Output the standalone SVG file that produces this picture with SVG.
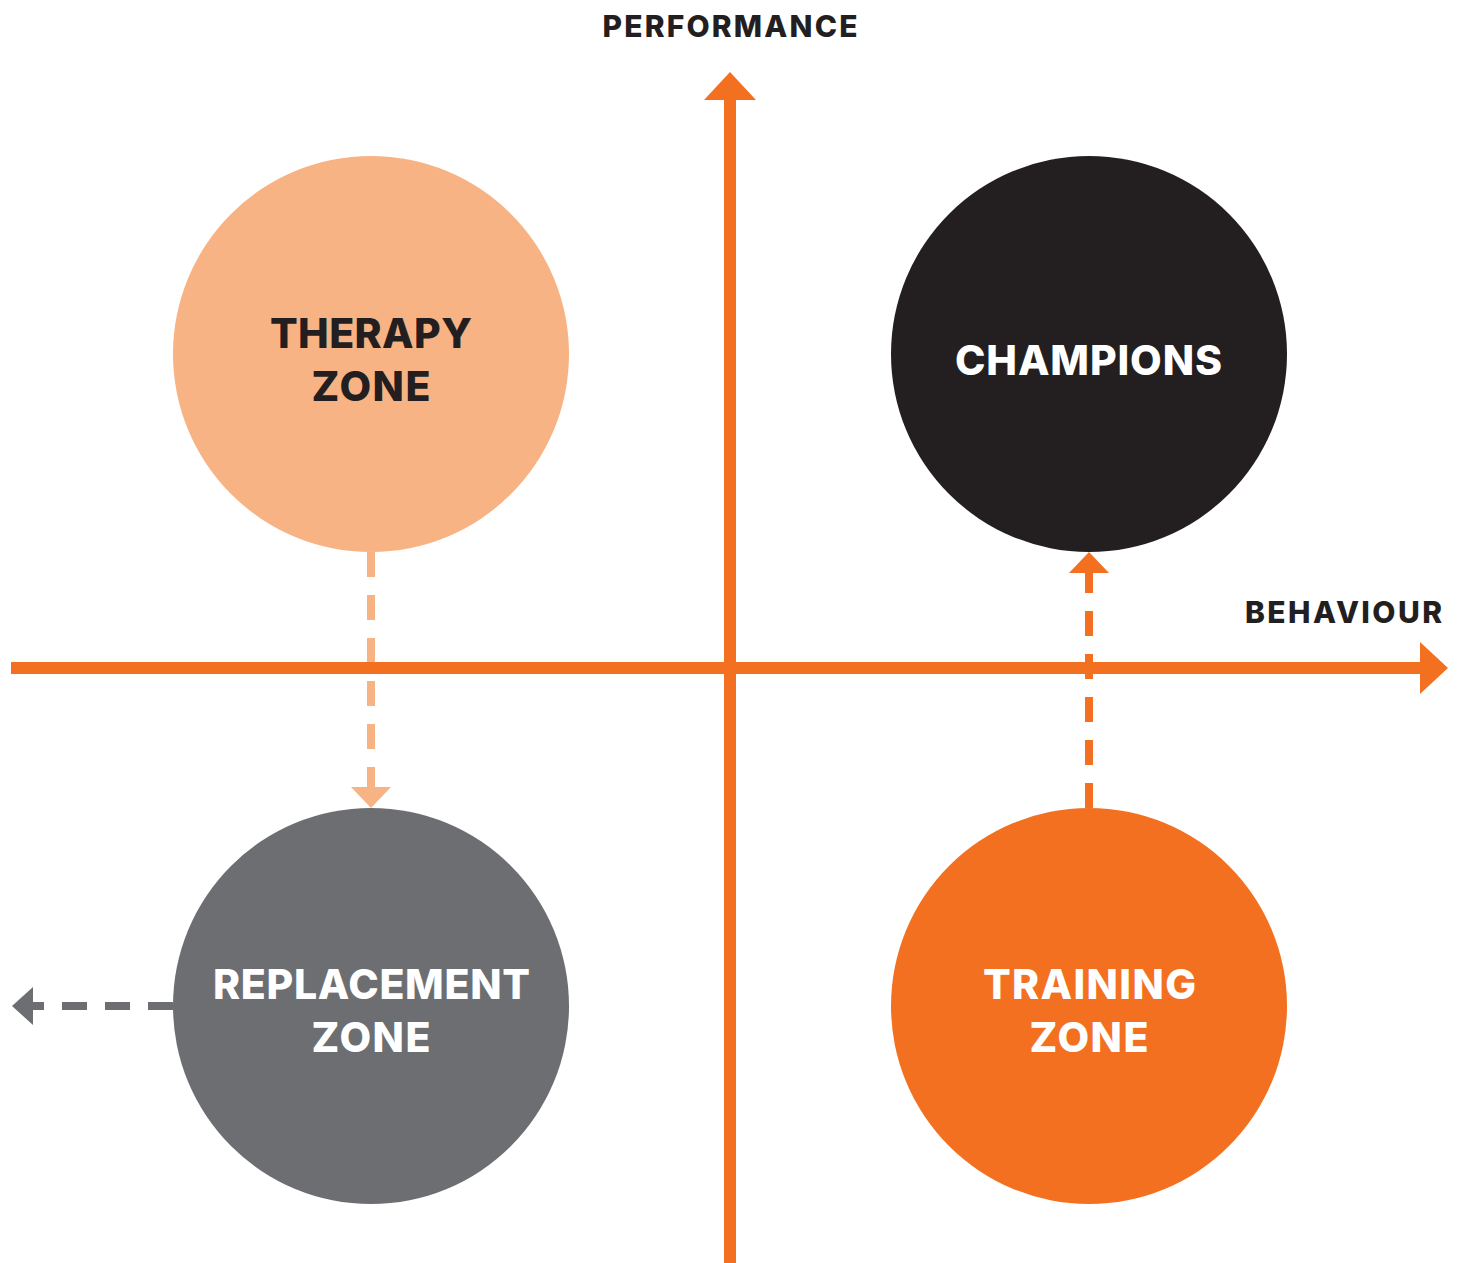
<svg xmlns="http://www.w3.org/2000/svg" width="1459" height="1263" viewBox="0 0 1459 1263">
<style>
.lbl{font-family:Inter,"Liberation Sans",sans-serif;font-weight:800;text-anchor:middle}
.big{font-size:41px}
.ax{font-size:30px;fill:#231F20}
.dash{fill:none;stroke-width:8;stroke-dasharray:25 18}
</style>
<rect width="1459" height="1263" fill="#ffffff"/>
<g id="connectors">
  <path class="dash" d="M371,552 V787" stroke="#F8B384"/>
  <polygon points="351,787 391,787 371,808" fill="#F8B384"/>
  <path class="dash" d="M1089,808 V573" stroke="#F37021"/>
  <polygon points="1069,573 1109,573 1089,552" fill="#F37021"/>
  <path class="dash" d="M173,1006 H33" stroke="#6D6E71"/>
  <polygon points="33,987 33,1025 12,1006" fill="#6D6E71"/>
</g>
<g id="axes">
  <rect x="724" y="98" width="12" height="1165" fill="#F37021"/>
  <polygon points="704,100 756,100 730,72" fill="#F37021"/>
  <rect x="11" y="662" width="1411" height="12" fill="#F37021"/>
  <polygon points="1420,642 1420,694 1448,668" fill="#F37021"/>
  <text class="lbl ax" x="730" y="37" textLength="255">PERFORMANCE</text>
  <text class="lbl ax" x="1343.5" y="623" textLength="197">BEHAVIOUR</text>
</g>
<g id="therapy">
  <circle cx="371" cy="354" r="198" fill="#F8B384"/>
  <text class="lbl big" x="371" y="348" fill="#231F20" textLength="202">THERAPY</text>
  <text class="lbl big" x="371" y="401" fill="#231F20" textLength="119">ZONE</text>
</g>
<g id="champions">
  <circle cx="1089" cy="354" r="198" fill="#231F20"/>
  <text class="lbl big" x="1088.5" y="375" fill="#ffffff" textLength="267">CHAMPIONS</text>
</g>
<g id="replacement">
  <circle cx="371" cy="1006" r="198" fill="#6D6E71"/>
  <text class="lbl big" x="371.5" y="999" fill="#ffffff" textLength="317">REPLACEMENT</text>
  <text class="lbl big" x="371" y="1052" fill="#ffffff" textLength="119">ZONE</text>
</g>
<g id="training">
  <circle cx="1089" cy="1006" r="198" fill="#F37021"/>
  <text class="lbl big" x="1089.5" y="999" fill="#ffffff" textLength="213">TRAINING</text>
  <text class="lbl big" x="1089" y="1052" fill="#ffffff" textLength="119">ZONE</text>
</g>
</svg>
